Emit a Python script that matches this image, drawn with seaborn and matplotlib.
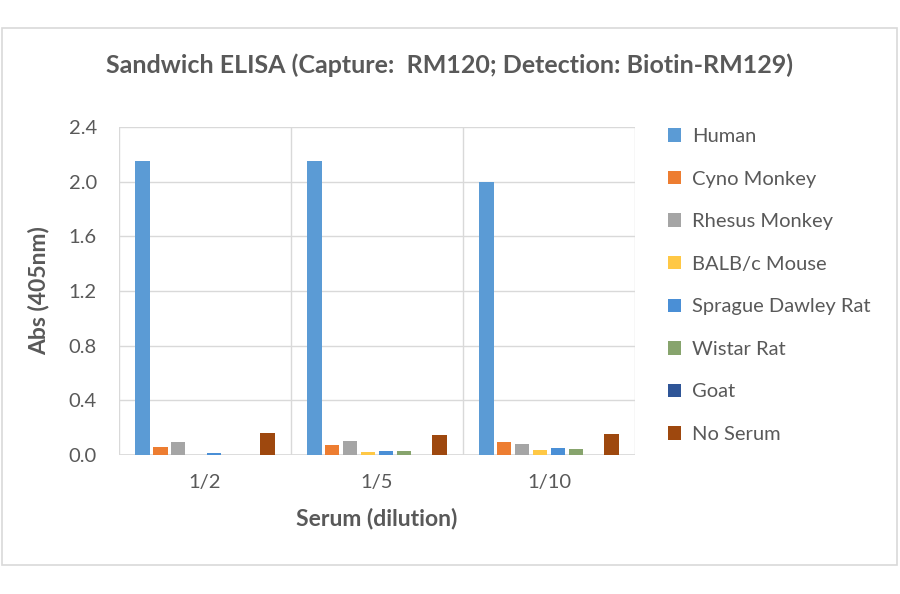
import numpy as np
import pandas as pd
import matplotlib
matplotlib.use("Agg")
import matplotlib.pyplot as plt
import seaborn as sns
from matplotlib.patches import Rectangle

dilutions = ['1/2', '1/5', '1/10']
species = ['Human', 'Cyno Monkey', 'Rhesus Monkey', 'BALB/c Mouse',
           'Sprague Dawley Rat', 'Wistar Rat', 'Goat', 'No Serum']
human = [2.15, 2.15, 2.00]
cyno = [0.059, 0.075, 0.093]
rhesus = [0.093, 0.100, 0.083]
balbc = [0.0, 0.022, 0.039]
sd_rat = [0.015, 0.032, 0.049]
wistar = [0.0, 0.032, 0.046]
goat = [-0.01, -0.01, 0.0]
no_serum = [0.163, 0.144, 0.154]
colors = ['#5B9BD5', '#ED7D31', '#A5A5A5', '#FFC845',
          '#4A8FD6', '#87A46D', '#2F5597', '#9E480E']

values = [human, cyno, rhesus, balbc, sd_rat, wistar, goat, no_serum]
rows = []
for sp, vals in zip(species, values):
    for d, v in zip(dilutions, vals):
        rows.append({'dilution': d, 'species': sp, 'abs': v})
df = pd.DataFrame(rows)

sns.set_style('white')
plt.rcParams['font.family'] = ['Lato', 'DejaVu Sans']
grey = '#595959'
grid = '#D9D9D9'

fig = plt.figure(figsize=(9, 5.94), dpi=100)
ax = fig.add_axes([0.1322, 0.234, 0.5733, 0.552])
sns.barplot(data=df, x='dilution', y='abs', hue='species', order=dilutions,
            hue_order=species, palette=colors, width=0.83, gap=0.2,
            linewidth=0, saturation=1, ax=ax, legend=True)

# hatch the goat bars like the original pattern fill
for bar in ax.containers[species.index('Goat')]:
    bar.set_hatch('....')
    bar.set_edgecolor('#8FAADC')
    bar.set_linewidth(0)

ax.set_ylim(0, 2.4)
ax.set_xlim(-0.5, 2.5)
ax.set_yticks(np.arange(0, 2.41, 0.4))
ax.set_yticklabels([f'{v:.1f}' for v in np.arange(0, 2.41, 0.4)])
ax.yaxis.grid(True, color=grid, linewidth=1)
for x in [-0.5, 0.5, 1.5, 2.5]:
    ax.axvline(x, color=grid, linewidth=1, zorder=0)
ax.set_axisbelow(True)
for s in ax.spines.values():
    s.set_visible(False)
ax.axhline(0, color=grid, linewidth=1.2, zorder=0.5)
ax.tick_params(axis='both', length=0, labelsize=14.5, colors=grey)
ax.tick_params(axis='x', pad=14)
ax.tick_params(axis='y', pad=16)
ax.set_xlabel('Serum (dilution)', fontsize=16.5, fontweight='bold', color=grey, labelpad=12)
ax.set_ylabel('Abs (405nm)', fontsize=16.5, fontweight='bold', color=grey, labelpad=14)

handles, labels = ax.get_legend_handles_labels()
ax.get_legend().remove()
fig.legend(handles, labels, loc='upper left', bbox_to_anchor=(0.722, 0.815),
           frameon=False, fontsize=14.5, labelcolor=grey, labelspacing=1.27,
           handlelength=0.65, handleheight=0.65, handletextpad=0.55)

fig.text(0.5, 0.89, 'Sandwich ELISA (Capture:  RM120; Detection: Biotin-RM129)',
         ha='center', va='center', fontsize=18, fontweight='bold', color=grey)

fig.patches.append(Rectangle((2 / 900, 1 - 565 / 594), 895 / 900, 537 / 594,
                             transform=fig.transFigure, fill=False,
                             edgecolor=grid, linewidth=1.2))

fig.savefig('out.png', dpi=100)
